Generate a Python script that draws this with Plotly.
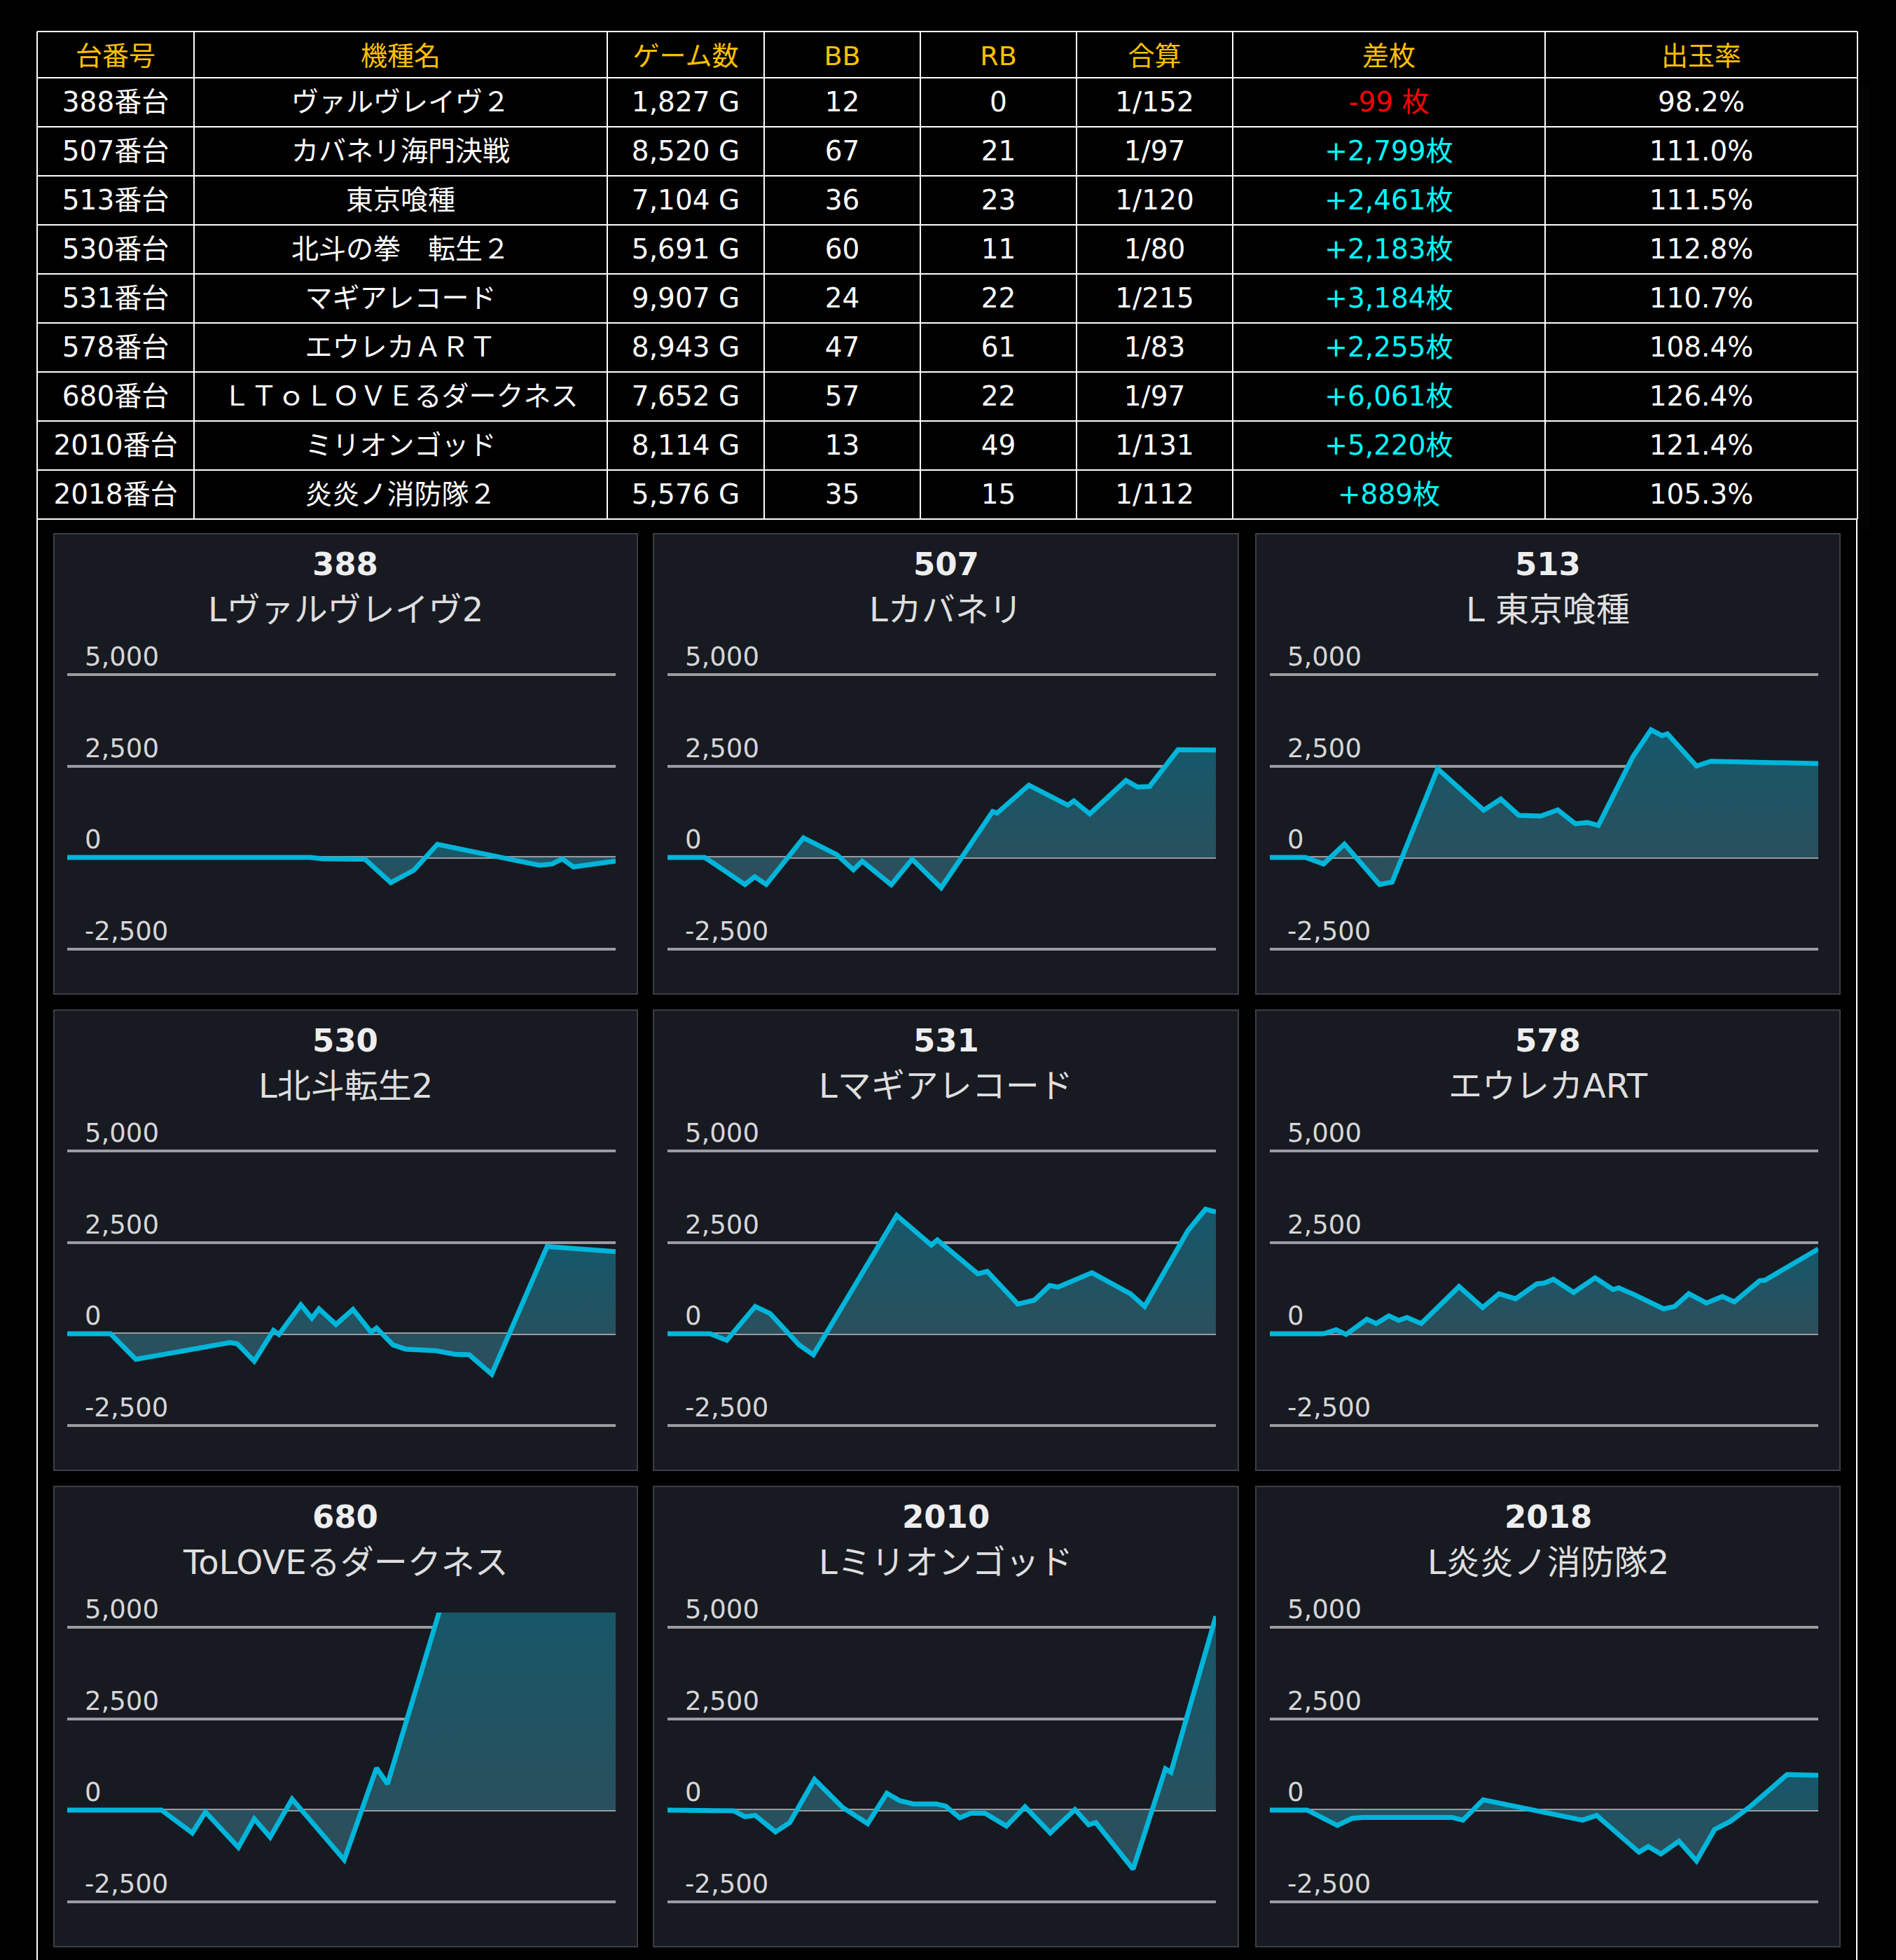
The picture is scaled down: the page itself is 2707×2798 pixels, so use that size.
import plotly.graph_objects as go

W, H = 2707, 2798

# ---------------- table data ----------------
col_headers = ["台番号", "機種名", "ゲーム数", "BB", "RB", "合算", "差枚", "出玉率"]
dai_ban = ["388番台", "507番台", "513番台", "530番台", "531番台",
           "578番台", "680番台", "2010番台", "2018番台"]
kishu = ["ヴァルヴレイヴ２", "カバネリ海門決戦", "東京喰種", "北斗の拳　転生２",
         "マギアレコード", "エウレカＡＲＴ", "ＬＴｏＬＯＶＥるダークネス",
         "ミリオンゴッド", "炎炎ノ消防隊２"]
games = ["1,827 G", "8,520 G", "7,104 G", "5,691 G", "9,907 G",
         "8,943 G", "7,652 G", "8,114 G", "5,576 G"]
bb = [12, 67, 36, 60, 24, 47, 57, 13, 35]
rb = [0, 21, 23, 11, 22, 61, 22, 49, 15]
gassan = ["1/152", "1/97", "1/120", "1/80", "1/215", "1/83", "1/97", "1/131", "1/112"]
samai = [-99, 2799, 2461, 2183, 3184, 2255, 6061, 5220, 889]
deritsu = ["98.2%", "111.0%", "111.5%", "112.8%", "110.7%",
           "108.4%", "126.4%", "121.4%", "105.3%"]

# ---------------- graph data (x = progress of the day, %) ----------------
chart_no = ["388", "507", "513", "530", "531", "578", "680", "2010", "2018"]
chart_name = ["Lヴァルヴレイヴ2", "Lカバネリ", "L 東京喰種", "L北斗転生2",
              "Lマギアレコード", "エウレカART", "ToLOVEるダークネス",
              "Lミリオンゴッド", "L炎炎ノ消防隊2"]

x_388 = [0, 44.3, 46.6, 54.3, 59.0, 63.2, 67.5, 86.1, 88.4, 90.3, 92.3, 100]
y_388 = [0, 0, -40, -50, -690, -350, 360, -215, -180, -40, -260, -99]

x_507 = [0, 6.8, 14.1, 15.9, 18.0, 24.8, 30.9, 33.9, 35.5, 40.8, 44.6, 49.9,
         59.3, 60.1, 65.9, 73.0, 74.1, 77.0, 83.6, 85.7, 87.9, 93.1, 100]
y_507 = [0, 0, -740, -530, -740, 535, 75, -340, -100, -750, -50, -830,
         1255, 1210, 1975, 1430, 1545, 1190, 2105, 1925, 1940, 2945, 2935]

x_513 = [0, 6.5, 9.8, 13.6, 20.0, 22.3, 30.6, 39.0, 42.1, 45.4, 49.4, 52.5,
         55.7, 57.9, 59.9, 66.2, 69.5, 71.5, 72.5, 77.8, 80.4, 100]
y_513 = [0, 0, -180, 365, -740, -675, 2425, 1290, 1595, 1150, 1130, 1300,
         920, 955, 875, 2755, 3490, 3330, 3380, 2500, 2630, 2565]

x_530 = [0, 7.9, 12.5, 29.7, 31.0, 34.1, 37.6, 38.6, 42.6, 44.6, 45.9, 49.0,
         52.1, 55.4, 56.4, 59.4, 61.7, 67.3, 70.6, 73.3, 77.4, 87.5, 100]
y_530 = [0, 0, -700, -240, -275, -750, 90, -20, 790, 425, 680, 255,
         665, 45, 155, -305, -420, -465, -560, -575, -1105, 2385, 2245]

x_531 = [0, 7.8, 10.8, 16.0, 18.7, 24.0, 26.6, 41.8, 48.1, 49.2, 56.6, 58.3,
         63.9, 66.9, 69.7, 71.2, 77.4, 84.4, 87.0, 94.9, 98.1, 100]
y_531 = [0, 0, -180, 745, 555, -305, -575, 3235, 2425, 2565, 1640, 1705,
         810, 920, 1320, 1275, 1670, 1095, 745, 2820, 3405, 3330]

x_578 = [0, 9.8, 12.1, 13.9, 17.7, 19.4, 21.7, 23.5, 25.0, 27.6, 34.5, 38.8,
         41.8, 44.8, 48.7, 50.0, 51.7, 55.4, 59.3, 62.6, 63.6, 66.5, 71.8,
         73.8, 76.4, 79.6, 82.5, 84.7, 89.3, 90.3, 100]
y_578 = [0, 0, 110, -20, 395, 280, 490, 365, 445, 280, 1290, 715,
         1095, 955, 1365, 1385, 1490, 1130, 1530, 1210, 1255, 1065, 680,
         745, 1095, 840, 1020, 875, 1450, 1465, 2320]

x_680 = [0, 17.2, 22.8, 25.2, 31.2, 34.1, 37.0, 41.0, 50.5, 56.4, 58.4, 69.3, 100]
y_680 = [0, 0, -625, -50, -1020, -240, -740, 300, -1360, 1150, 715, 6150, 6061]

x_2010 = [0, 9.4, 12.1, 14.1, 16.0, 19.7, 22.3, 26.8, 31.9, 36.5, 40.0, 42.4,
          44.8, 49.0, 50.7, 53.3, 55.3, 57.9, 61.8, 65.2, 69.8, 74.3, 76.8,
          78.1, 84.9, 90.8, 91.8, 100]
y_2010 = [0, 0, -20, -180, -145, -595, -340, 840, 75, -370, 460, 255,
          170, 170, 110, -210, -85, -85, -435, 90, -625, 15, -400,
          -340, -1615, 1130, 1035, 5300]

x_2018 = [0, 6.8, 12.3, 15.0, 17.0, 33.2, 35.2, 38.9, 57.0, 59.6, 67.3, 69.0,
          71.3, 74.6, 77.8, 81.1, 84.0, 87.7, 94.3, 100]
y_2018 = [0, 0, -420, -225, -200, -200, -275, 280, -275, -145, -1150, -995,
          -1200, -850, -1390, -530, -305, 110, 970, 955]

series = [(x_388, y_388), (x_507, y_507), (x_513, y_513),
          (x_530, y_530), (x_531, y_531), (x_578, y_578),
          (x_680, y_680), (x_2010, y_2010), (x_2018, y_2018)]

y_ticks = [-2500, 0, 2500, 5000]
y_tick_text = ["-2,500", "0", "2,500", "5,000"]
y_min, y_max = -3000, 5400

# ---------------- layout geometry (pixels) ----------------
def fx(p):
    return p / W

def fy(p):
    return 1 - p / H

table_left, table_top = 53, 45
col_w = [224, 590, 224, 223, 223, 223, 446, 446]
header_h, row_h = 66, 70
text_drop = 11  # plotly table puts text near the top of a cell; push it down
table_right = table_left + sum(col_w)
table_bottom = table_top + header_h + row_h * len(dai_ban)

panel_cols = [(77, 910), (933, 1768), (1793, 2627)]
panel_rows = [(762, 1419), (1442, 2099), (2122, 2779)]
plot_cols = [(96, 879), (953, 1736), (1813, 2596)]
px_per_unit = 130.5 / 2500
zero_offset = 462  # zero line below panel top

TABLE_FONT = "DejaVu Sans, Noto Sans CJK JP"
CHART_FONT = "DejaVu Sans, Noto Sans CJK JP"

fig = go.Figure()

# ---------------- table ----------------
samai_text = [f"{v:+,}枚" if v > 0 else f"{v} 枚" for v in samai]
samai_color = ["#00FFFF" if v > 0 else "#FF0000" for v in samai]
white = ["white"] * len(dai_ban)
no_line = dict(color="rgba(0,0,0,0)", width=0)

fig.add_trace(go.Table(
    domain=dict(x=[fx(table_left), fx(table_right)],
                y=[fy(table_bottom + text_drop + 4), fy(table_top + text_drop)]),
    columnwidth=col_w,
    header=dict(values=col_headers, fill_color="black", line=no_line,
                font=dict(color="#FFC000", size=38, family=TABLE_FONT),
                height=header_h, align="center"),
    cells=dict(values=[dai_ban, kishu, games, bb, rb, gassan, samai_text, deritsu],
               fill_color="black", line=no_line,
               font=dict(color=[white, white, white, white, white, white,
                                samai_color, white],
                         size=39, family=TABLE_FONT),
               height=row_h, align="center"),
))

# table grid
row_edges = [table_top] + [table_top + header_h + row_h * k for k in range(len(dai_ban) + 1)]
col_edges = [table_left]
for w in col_w:
    col_edges.append(col_edges[-1] + w)

for yy in row_edges:
    fig.add_shape(type="line", xref="paper", yref="paper",
                  x0=fx(table_left), x1=fx(table_right), y0=fy(yy), y1=fy(yy),
                  line=dict(color="white", width=2))
for xx in col_edges:
    fig.add_shape(type="line", xref="paper", yref="paper",
                  x0=fx(xx), x1=fx(xx), y0=fy(table_bottom), y1=fy(table_top),
                  line=dict(color="white", width=2))

# container border below the table
for xb in [table_left, table_right - 1]:
    fig.add_shape(type="line", xref="paper", yref="paper",
                  x0=fx(xb), x1=fx(xb), y0=fy(table_bottom), y1=0,
                  line=dict(color="white", width=2))

# ---------------- charts ----------------
for i, (xs, ys) in enumerate(series):
    r, c = divmod(i, 3)
    n = i + 1
    pl, pr = panel_cols[c]
    pt, pb = panel_rows[r]
    xl, xr = plot_cols[c]
    zero_px = pt + zero_offset
    top_px = zero_px - y_max * px_per_unit
    bot_px = zero_px - y_min * px_per_unit

    fig.add_shape(type="rect", xref="paper", yref="paper", layer="below",
                  x0=fx(pl), x1=fx(pr), y0=fy(pb), y1=fy(pt),
                  fillcolor="#181a22", line=dict(color="#3b3e46", width=2))

    xa = "x" if n == 1 else f"x{n}"
    ya = "y" if n == 1 else f"y{n}"
    fig.add_trace(go.Scatter(
        x=xs, y=ys, mode="lines", xaxis=xa, yaxis=ya,
        line=dict(color="#00B5DA", width=7),
        fill="tozeroy",
        fillgradient=dict(type="vertical",
                          colorscale=[[0, "rgb(46,78,90)"], [1, "rgb(21,88,106)"]]),
        hoverinfo="skip", showlegend=False,
    ))

    fig.update_layout(**{
        ("xaxis" if n == 1 else f"xaxis{n}"): dict(
            domain=[fx(xl), fx(xr)], range=[0, 100], visible=False,
            anchor=ya, automargin=False),
        ("yaxis" if n == 1 else f"yaxis{n}"): dict(
            domain=[fy(bot_px), fy(top_px)], range=[y_min, y_max],
            anchor=xa, tickmode="array", tickvals=y_ticks, ticktext=y_tick_text,
            showgrid=True, gridcolor="#9a9ca2", gridwidth=4, zeroline=False,
            showline=False, ticks="", ticklabelposition="inside top",
            ticklabeloverflow="allow", ticklabelstandoff=22, automargin=False,
            tickfont=dict(size=37, color="#d6d6d6", family=CHART_FONT)),
    })

    cx = (pl + pr) / 2
    fig.add_annotation(xref="paper", yref="paper", x=fx(cx), y=fy(pt + 43),
                       xanchor="center", yanchor="middle",
                       text=f"<b>{chart_no[i]}</b>", showarrow=False,
                       font=dict(size=45, color="#eeeeee", family=CHART_FONT))
    fig.add_annotation(xref="paper", yref="paper", x=fx(cx), y=fy(pt + 108),
                       xanchor="center", yanchor="middle",
                       text=chart_name[i], showarrow=False,
                       font=dict(size=48, color="#dedede", family=CHART_FONT))

fig.update_layout(
    width=W, height=H,
    margin=dict(l=0, r=0, t=0, b=0, autoexpand=False),
    paper_bgcolor="black",
    plot_bgcolor="rgba(0,0,0,0)",
    showlegend=False,
)

fig.write_html("out.html", config={"displayModeBar": False},
               post_script="document.body.style.margin='0';"
                           "document.body.style.backgroundColor='black';")
